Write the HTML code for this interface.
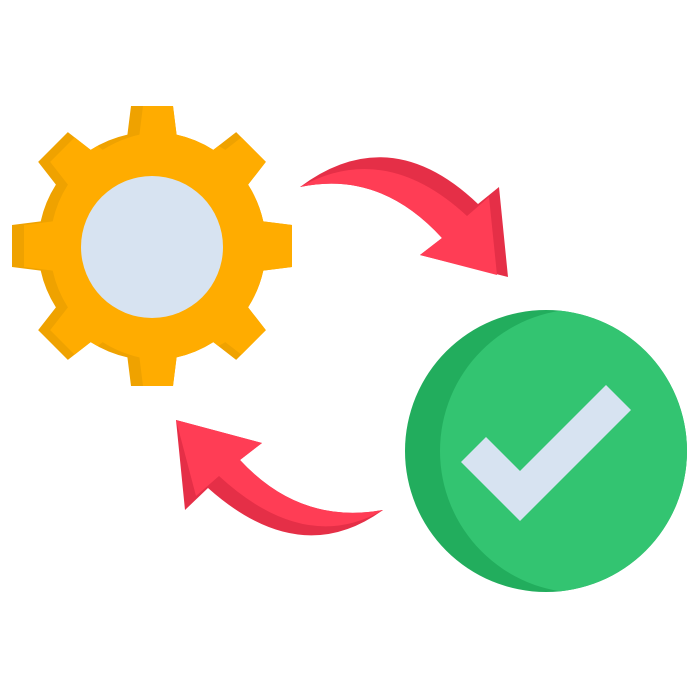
<!DOCTYPE html>
<html><head><style>html,body{margin:0;padding:0;background:#fff}svg{display:block}</style></head>
<body>
<svg width="700" height="700" viewBox="0 0 700 700" xmlns="http://www.w3.org/2000/svg">
<defs>
<clipPath id="gc">
<circle cx="152" cy="246" r="114"/>
<polygon points="-26,-100 26,-100 21,-140 -21,-140" transform="translate(152,246)"/>
<polygon points="-26,-100 26,-100 21,-140 -21,-140" transform="translate(152,246) rotate(45)"/>
<polygon points="-26,-100 26,-100 21,-140 -21,-140" transform="translate(152,246) rotate(90)"/>
<polygon points="-26,-100 26,-100 21,-140 -21,-140" transform="translate(152,246) rotate(135)"/>
<polygon points="-26,-100 26,-100 21,-140 -21,-140" transform="translate(152,246) rotate(180)"/>
<polygon points="-26,-100 26,-100 21,-140 -21,-140" transform="translate(152,246) rotate(225)"/>
<polygon points="-26,-100 26,-100 21,-140 -21,-140" transform="translate(152,246) rotate(270)"/>
<polygon points="-26,-100 26,-100 21,-140 -21,-140" transform="translate(152,246) rotate(315)"/>
</clipPath>
<clipPath id="gc2">
<circle cx="164" cy="246" r="114"/>
<polygon points="-26,-100 26,-100 21,-140 -21,-140" transform="translate(164,246)"/>
<polygon points="-26,-100 26,-100 21,-140 -21,-140" transform="translate(164,246) rotate(45)"/>
<polygon points="-26,-100 26,-100 21,-140 -21,-140" transform="translate(164,246) rotate(90)"/>
<polygon points="-26,-100 26,-100 21,-140 -21,-140" transform="translate(164,246) rotate(135)"/>
<polygon points="-26,-100 26,-100 21,-140 -21,-140" transform="translate(164,246) rotate(180)"/>
<polygon points="-26,-100 26,-100 21,-140 -21,-140" transform="translate(164,246) rotate(225)"/>
<polygon points="-26,-100 26,-100 21,-140 -21,-140" transform="translate(164,246) rotate(270)"/>
<polygon points="-26,-100 26,-100 21,-140 -21,-140" transform="translate(164,246) rotate(315)"/>
</clipPath>
<clipPath id="cc"><circle cx="546" cy="451" r="141"/></clipPath>
</defs>
<g clip-path="url(#gc)">
<rect x="0" y="90" width="310" height="310" fill="#EFA200"/>
<g clip-path="url(#gc2)"><rect x="0" y="90" width="310" height="310" fill="#FFAC00"/></g>
</g>
<circle cx="152" cy="247" r="71" fill="#D7E3F1"/>

<path d="M300,187 Q390,120 478,204 L499,187 L508,277 L420,255 L442,238 Q380,170 300,187Z" fill="#E52F47"/>
<path d="M300,187 Q385,140 467,216 L489,197 L497,275 L420,255 L442,238 Q380,170 300,187Z" fill="#FF3D55"/>

<path d="M383,510 Q300,570 208,488 L185,510 L176,420 L262,443 L240,460 Q300,525 383,510Z" fill="#E52F47"/>
<path d="M383,510 Q305,555 219,476 L196,496 L176,420 L262,443 L240,460 Q300,525 383,510Z" fill="#FF3D55"/>

<circle cx="546" cy="451" r="141" fill="#22AD5D"/>
<g clip-path="url(#cc)"><circle cx="582" cy="451" r="142" fill="#33C471"/></g>
<polygon points="461,462 486,437 520,471 606,385 631,410 520,521" fill="#D7E3F1"/>
</svg>
</body></html>
